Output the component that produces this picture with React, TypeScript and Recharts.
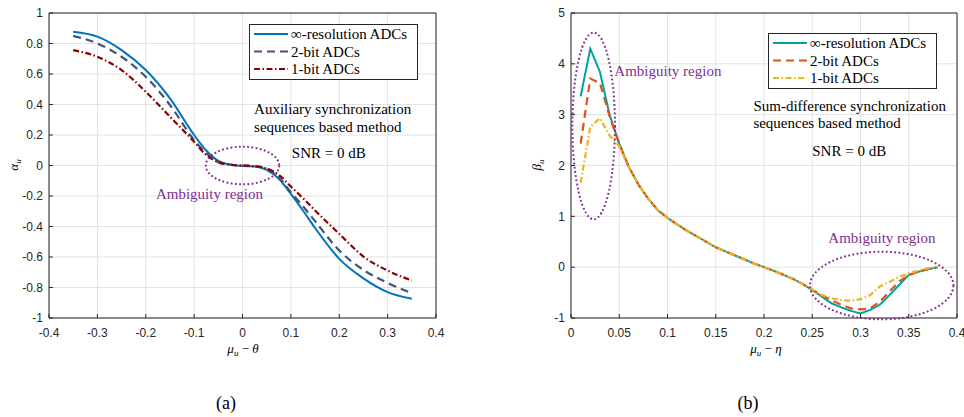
import React from 'react';
import { LineChart, Line, XAxis, YAxis, CartesianGrid, ReferenceDot } from 'recharts';

// (a) auxiliary synchronization sequences, SNR = 0 dB
const muTheta = [-0.35, -0.3, -0.25, -0.2, -0.15, -0.1, -0.075, -0.05, -0.025, 0, 0.025, 0.05, 0.075, 0.1, 0.125, 0.15, 0.2, 0.25, 0.3, 0.35];
const alphaInf = [0.877, 0.845, 0.757, 0.626, 0.44, 0.2, 0.098, 0.03, 0.006, -0.004, -0.006, -0.028, -0.087, -0.186, -0.295, -0.41, -0.612, -0.74, -0.83, -0.874];
const alpha2bit = [0.85, 0.8, 0.713, 0.582, 0.397, 0.167, 0.08, 0.022, 0.005, 0, -0.004, -0.02, -0.077, -0.175, -0.267, -0.365, -0.557, -0.685, -0.77, -0.837];
const alpha1bit = [0.757, 0.713, 0.626, 0.484, 0.32, 0.156, 0.069, 0.022, 0.005, 0, -0.005, -0.02, -0.061, -0.138, -0.214, -0.295, -0.448, -0.597, -0.689, -0.754];

// (b) sum-difference synchronization sequences, SNR = 0 dB
const muEta = [0.01, 0.02, 0.03, 0.04, 0.05, 0.06, 0.07, 0.08, 0.09, 0.1, 0.11, 0.12, 0.13, 0.14, 0.15, 0.16, 0.17, 0.18, 0.19, 0.2,
  0.21, 0.22, 0.23, 0.24, 0.25, 0.26, 0.27, 0.28, 0.29, 0.3, 0.31, 0.32, 0.33, 0.34, 0.35, 0.36, 0.37, 0.38];
const betaInf = [3.36, 4.3, 3.84, 3.0, 2.43, 1.97, 1.62, 1.35, 1.12, 0.97, 0.84, 0.72, 0.61, 0.5, 0.39, 0.31, 0.23, 0.15, 0.07, 0.0,
  -0.07, -0.15, -0.23, -0.33, -0.45, -0.58, -0.71, -0.79, -0.86, -0.91, -0.84, -0.74, -0.55, -0.35, -0.15, -0.09, -0.04, 0.0];
const beta2bit = [2.43, 3.71, 3.62, 2.97, 2.42, 1.97, 1.62, 1.35, 1.12, 0.97, 0.84, 0.72, 0.61, 0.5, 0.39, 0.31, 0.23, 0.15, 0.07, 0.0,
  -0.07, -0.15, -0.23, -0.33, -0.45, -0.55, -0.65, -0.74, -0.81, -0.83, -0.81, -0.68, -0.48, -0.28, -0.16, -0.08, -0.04, 0.0];
const beta1bit = [1.66, 2.76, 2.93, 2.59, 2.38, 1.96, 1.62, 1.35, 1.12, 0.97, 0.84, 0.72, 0.61, 0.5, 0.39, 0.31, 0.23, 0.15, 0.07, 0.0,
  -0.07, -0.15, -0.23, -0.33, -0.44, -0.55, -0.61, -0.65, -0.66, -0.63, -0.55, -0.38, -0.29, -0.19, -0.12, -0.07, -0.02, 0.0];

const xTicksA = [-0.4, -0.3, -0.2, -0.1, 0, 0.1, 0.2, 0.3, 0.4];
const yTicksA = [-1, -0.8, -0.6, -0.4, -0.2, 0, 0.2, 0.4, 0.6, 0.8, 1];
const xTicksB = [0, 0.05, 0.1, 0.15, 0.2, 0.25, 0.3, 0.35, 0.4];
const yTicksB = [-1, 0, 1, 2, 3, 4, 5];
const seriesNames = ['∞-resolution ADCs', '2-bit ADCs', '1-bit ADCs'];

const dataA = muTheta.map((x, i) => ({ x, inf: alphaInf[i], b2: alpha2bit[i], b1: alpha1bit[i] }));
const dataB = muEta.map((x, i) => ({ x, inf: betaInf[i], b2: beta2bit[i], b1: beta1bit[i] }));

const AXIS = '#262626';
const PURPLE = '#7e2f8e';
const SERIF = '"Liberation Serif", "DejaVu Serif", serif';
const tickStyle = { fill: AXIS, fontSize: 12, fontFamily: '"Liberation Sans", Arial, sans-serif' };

type Style = { color: string; dash?: string; width: number };
const stylesA: Style[] = [
  { color: '#0072bd', width: 2 },
  { color: '#405577', dash: '8 5', width: 2.2 },
  { color: '#8b0000', dash: '6 2.5 1.5 2.5', width: 2.2 },
];
const stylesB: Style[] = [
  { color: '#00a09c', width: 2 },
  { color: '#e0531c', dash: '8 5', width: 2.2 },
  { color: '#f0b21e', dash: '6 2.5 1.5 2.5', width: 2.2 },
];

const note = (x: number, y: number, text: string, color = '#000') => (
  <ReferenceDot
    key={text + x}
    x={x}
    y={y}
    r={0}
    shape={(p: any) => (
      <text x={p.cx} y={p.cy} fill={color} fontSize={15} fontFamily={SERIF}>{text}</text>
    )}
  />
);

const ellipse = (x: number, y: number, rx: number, ry: number) => (
  <ReferenceDot
    key={'e' + x}
    x={x}
    y={y}
    r={0}
    shape={(p: any) => (
      <ellipse cx={p.cx} cy={p.cy} rx={rx} ry={ry} fill="none" stroke={PURPLE} strokeWidth={2} strokeDasharray="1.8 2.4" />
    )}
  />
);

function Legend({ left, top, styles }: { left: number; top: number; styles: Style[] }) {
  return (
    <svg width={169} height={57} style={{ position: 'absolute', left, top }}>
      <rect x={0.5} y={0.5} width={168} height={55} fill="#fff" stroke={AXIS} />
      {seriesNames.map((name, i) => (
        <g key={name}>
          <line x1={5} x2={39} y1={10 + i * 17.5} y2={10 + i * 17.5} stroke={styles[i].color} strokeWidth={styles[i].width} strokeDasharray={styles[i].dash} />
          <text x={42} y={15 + i * 17.5} fontSize={15} fontFamily={SERIF} fill="#000">{name}</text>
        </g>
      ))}
    </svg>
  );
}

function Axes({ xTicks, yTicks, xDomain, yDomain, yWidth }: any) {
  return [
    <CartesianGrid key="g" stroke="#e2e2e2" />,
    <XAxis key="x" dataKey="x" type="number" domain={xDomain} ticks={xTicks} interval={0} allowDataOverflow
      height={30} tickSize={-4} tickMargin={14} stroke={AXIS} tick={tickStyle} />,
    <XAxis key="xt" xAxisId="top" orientation="top" type="number" domain={xDomain} ticks={xTicks} interval={0}
      height={1} tickSize={-4} tick={false} stroke={AXIS} />,
    <YAxis key="y" type="number" domain={yDomain} ticks={yTicks} interval={0} allowDataOverflow
      width={yWidth} tickSize={-4} tickMargin={10} stroke={AXIS} tick={tickStyle} />,
    <YAxis key="yr" yAxisId="right" orientation="right" type="number" domain={yDomain} ticks={yTicks} interval={0}
      width={1} tickSize={-4} tick={false} stroke={AXIS} />,
  ];
}

function series(styles: Style[]) {
  return ['inf', 'b2', 'b1'].map((k, i) => (
    <Line key={k} dataKey={k} type={k === 'inf' && styles === stylesA ? 'monotone' : styles === stylesA ? 'monotone' : 'linear'}
      stroke={styles[i].color} strokeWidth={styles[i].width} strokeDasharray={styles[i].dash}
      dot={false} activeDot={false} isAnimationActive={false} />
  ));
}

export default function App() {
  return (
    <div style={{ position: 'absolute', left: 0, top: 0, width: 964, height: 417, background: '#fff' }}>
      <div style={{ position: 'absolute', left: 0, top: 0 }}>
        <LineChart width={480} height={360} data={dataA} margin={{ top: 12, right: 43, bottom: 12, left: 0 }}>
          {Axes({ xTicks: xTicksA, yTicks: yTicksA, xDomain: [-0.4, 0.4], yDomain: [-1, 1], yWidth: 49 })}
          {series(stylesA)}
          {ellipse(0, 0, 36.7, 18.8)}
          {note(0.024, 0.336, 'Auxiliary synchronization')}
          {note(0.024, 0.222, 'sequences based method')}
          {note(0.102, 0.049, 'SNR = 0 dB')}
          {note(-0.179, -0.22, 'Ambiguity region', PURPLE)}
        </LineChart>
      </div>
      <div style={{ position: 'absolute', left: 480, top: 0 }}>
        <LineChart width={484} height={360} data={dataB} margin={{ top: 12, right: 6, bottom: 12, left: 0 }}>
          {Axes({ xTicks: xTicksB, yTicks: yTicksB, xDomain: [0, 0.4], yDomain: [-1, 5], yWidth: 91 })}
          {series(stylesB)}
          {ellipse(0.0235, 2.777, 21.3, 93.3)}
          {ellipse(0.322, -0.361, 71.7, 33.8)}
          {note(0.0449, 3.76, 'Ambiguity region', PURPLE)}
          {note(0.189, 3.07, 'Sum-difference synchronization')}
          {note(0.189, 2.74, 'sequences based method')}
          {note(0.25, 2.19, 'SNR = 0 dB')}
          {note(0.2667, 0.48, 'Ambiguity region', PURPLE)}
        </LineChart>
      </div>
      <Legend left={249} top={24} styles={stylesA} />
      <Legend left={768} top={33} styles={stylesB} />
      <svg width={964} height={417} style={{ position: 'absolute', left: 0, top: 0, pointerEvents: 'none' }}>
        <g fontFamily={SERIF} fill="#000">
          <text transform="translate(18,165) rotate(-90)" textAnchor="middle" fontSize={13}>
            <tspan fontStyle="italic">α</tspan><tspan dy={3} fontSize={9} fontStyle="italic">u</tspan>
          </text>
          <text transform="translate(541,165) rotate(-90)" textAnchor="middle" fontSize={13}>
            <tspan fontStyle="italic">β</tspan><tspan dy={3} fontSize={9} fontStyle="italic">u</tspan>
          </text>
          <text x={243} y={353} textAnchor="middle" fontSize={13}>
            <tspan fontStyle="italic">μ</tspan><tspan dy={3} fontSize={9} fontStyle="italic">u</tspan><tspan dy={-3}> − </tspan><tspan fontStyle="italic">θ</tspan>
          </text>
          <text x={766} y={353} textAnchor="middle" fontSize={13}>
            <tspan fontStyle="italic">μ</tspan><tspan dy={3} fontSize={9} fontStyle="italic">u</tspan><tspan dy={-3}> − </tspan><tspan fontStyle="italic">η</tspan>
          </text>
          <text x={226} y={409} textAnchor="middle" fontSize={18}>(a)</text>
          <text x={748} y={409} textAnchor="middle" fontSize={18}>(b)</text>
        </g>
      </svg>
    </div>
  );
}
